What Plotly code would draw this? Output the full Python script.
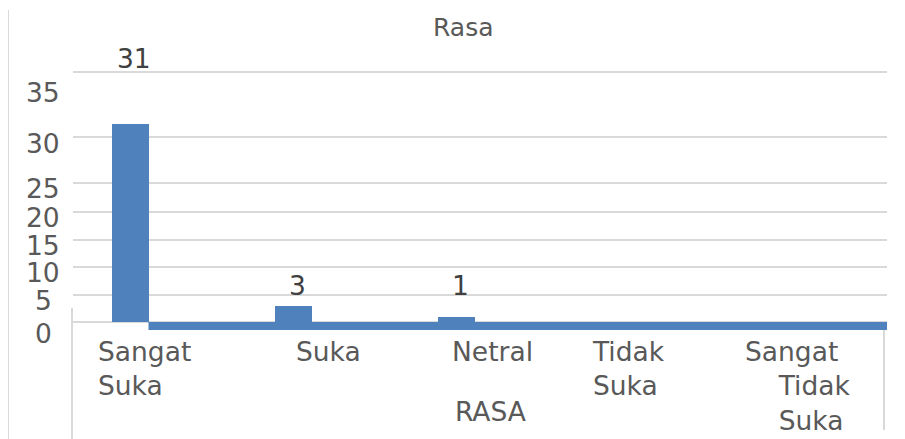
import numpy as np
import plotly.graph_objects as go

# ---------------- data ----------------
categories = ["Sangat Suka", "Suka", "Netral", "Tidak Suka", "Sangat Tidak Suka"]
category_labels = ["Sangat<br>Suka", "Suka", "Netral", "Tidak<br>Suka",
                   "Sangat<br>\u00a0\u00a0\u00a0\u00a0Tidak<br>\u00a0\u00a0\u00a0\u00a0Suka"]
values = [31, 3, 1, 0, 0]
tick_values = [0, 5, 10, 15, 20, 25, 30, 35]
tick_labels = ["0", "5", "10", "15", "20", "25", "30", "35"]
chart_title = "Rasa"
x_title = "RASA"

# ---------------- layout constants (reference-window pixels) ----------------
W, H = 905, 439
OFF = 8                          # page body margin of the browser
PL, PR = 73, 887                 # plot area left / right
PT, PB = OFF, H + OFF            # plot area top / bottom (window pixels)
BASE_PX = 322                    # pixel row of value 0
GRID_PX = [322, 295, 267, 240, 212, 183, 137, 72]   # gridline rows for tick_values
YLAB_PX = [334, 300, 272, 245, 217, 188, 143, 92]   # y tick label centres
CAT0_PX, CAT_STEP = 130, 163     # category centre spacing
XLAB_LEFT_PX = [96, 294, 450, 590, 743]
XLAB_TOP_PX = 334
DLAB_PX = [58, 285, 285]         # data label centres
BAR_W = 0.227

FONT = "DejaVu Sans"
FS = 26.5
GREY_TXT = "#595959"
GRID = "#D9D9D9"
BLUE = "#4F81BD"


def u_of_px(py):
    return BASE_PX - py


def xp(px):  # window pixel -> paper x
    return (px - PL) / (PR - PL)


def yp(py):  # window pixel -> paper y
    return (PB - py) / (PB - PT)


grid_u = [u_of_px(p) for p in GRID_PX]


def scale(v):
    return np.interp(v, tick_values, grid_u)


x_range = [(PL - CAT0_PX) / CAT_STEP, (PR - CAT0_PX) / CAT_STEP]

fig = go.Figure()
fig.add_trace(go.Bar(
    x=list(range(len(categories))),
    y=[float(scale(v)) for v in values],
    width=BAR_W,
    marker=dict(color=BLUE, line=dict(width=0)),
    hoverinfo="skip",
    showlegend=False,
))

annotations = []
annotations.append(dict(text=chart_title, x=xp(463), y=yp(28), xref="paper", yref="paper",
                        showarrow=False, xanchor="center", yanchor="middle",
                        font=dict(family=FONT, size=25, color=GREY_TXT)))
for lab, py in zip(tick_labels, YLAB_PX):
    annotations.append(dict(text=lab, x=xp(43), y=yp(py), xref="paper", yref="paper",
                            showarrow=False, xanchor="center", yanchor="middle",
                            font=dict(family=FONT, size=FS, color=GREY_TXT)))
for lab, px in zip(category_labels, XLAB_LEFT_PX):
    annotations.append(dict(text=lab, x=xp(px), y=yp(XLAB_TOP_PX), xref="paper", yref="paper",
                            showarrow=False, xanchor="left", yanchor="top", align="left",
                            font=dict(family=FONT, size=FS, color=GREY_TXT)))
annotations.append(dict(text=x_title, x=xp(490), y=yp(411), xref="paper", yref="paper",
                        showarrow=False, xanchor="center", yanchor="middle",
                        font=dict(family=FONT, size=FS, color=GREY_TXT)))
for i, (v, py) in enumerate(zip(values, DLAB_PX)):
    if v:
        annotations.append(dict(text=str(v), x=i, y=u_of_px(py), xref="x", yref="y",
                                xshift=4, showarrow=False, xanchor="center", yanchor="middle",
                                font=dict(family=FONT, size=FS, color="#404040")))

shapes = [
    dict(type="rect", xref="x", yref="y", x0=BAR_W / 2, x1=x_range[1] + 0.1,
         y0=u_of_px(BASE_PX + 8), y1=0, fillcolor=BLUE, line=dict(width=0), layer="above"),
    dict(type="line", xref="paper", yref="paper", x0=xp(8), x1=xp(8), y0=yp(10), y1=yp(447),
         line=dict(color=GRID, width=2)),
    dict(type="line", xref="paper", yref="paper", x0=xp(72), x1=xp(72), y0=yp(308), y1=yp(447),
         line=dict(color=GRID, width=2)),
    dict(type="line", xref="paper", yref="paper", x0=xp(884), x1=xp(884), y0=yp(330), y1=yp(430),
         line=dict(color=GRID, width=2)),
]

fig.update_layout(
    width=W, height=H,
    margin=dict(l=PL - OFF, r=W - (PR - OFF), t=0, b=0, pad=0),
    paper_bgcolor="white", plot_bgcolor="white",
    xaxis=dict(range=x_range, showgrid=False, showticklabels=False, zeroline=False,
               showline=False, ticks="", fixedrange=True),
    yaxis=dict(range=[u_of_px(PB), u_of_px(PT)], tickvals=grid_u, showticklabels=False,
               showgrid=True, gridcolor=GRID, gridwidth=2, zeroline=False, showline=False,
               ticks="", fixedrange=True),
    annotations=annotations,
    shapes=shapes,
    bargap=0,
    showlegend=False,
)

fig.write_html("out.html", config={"displayModeBar": False})
